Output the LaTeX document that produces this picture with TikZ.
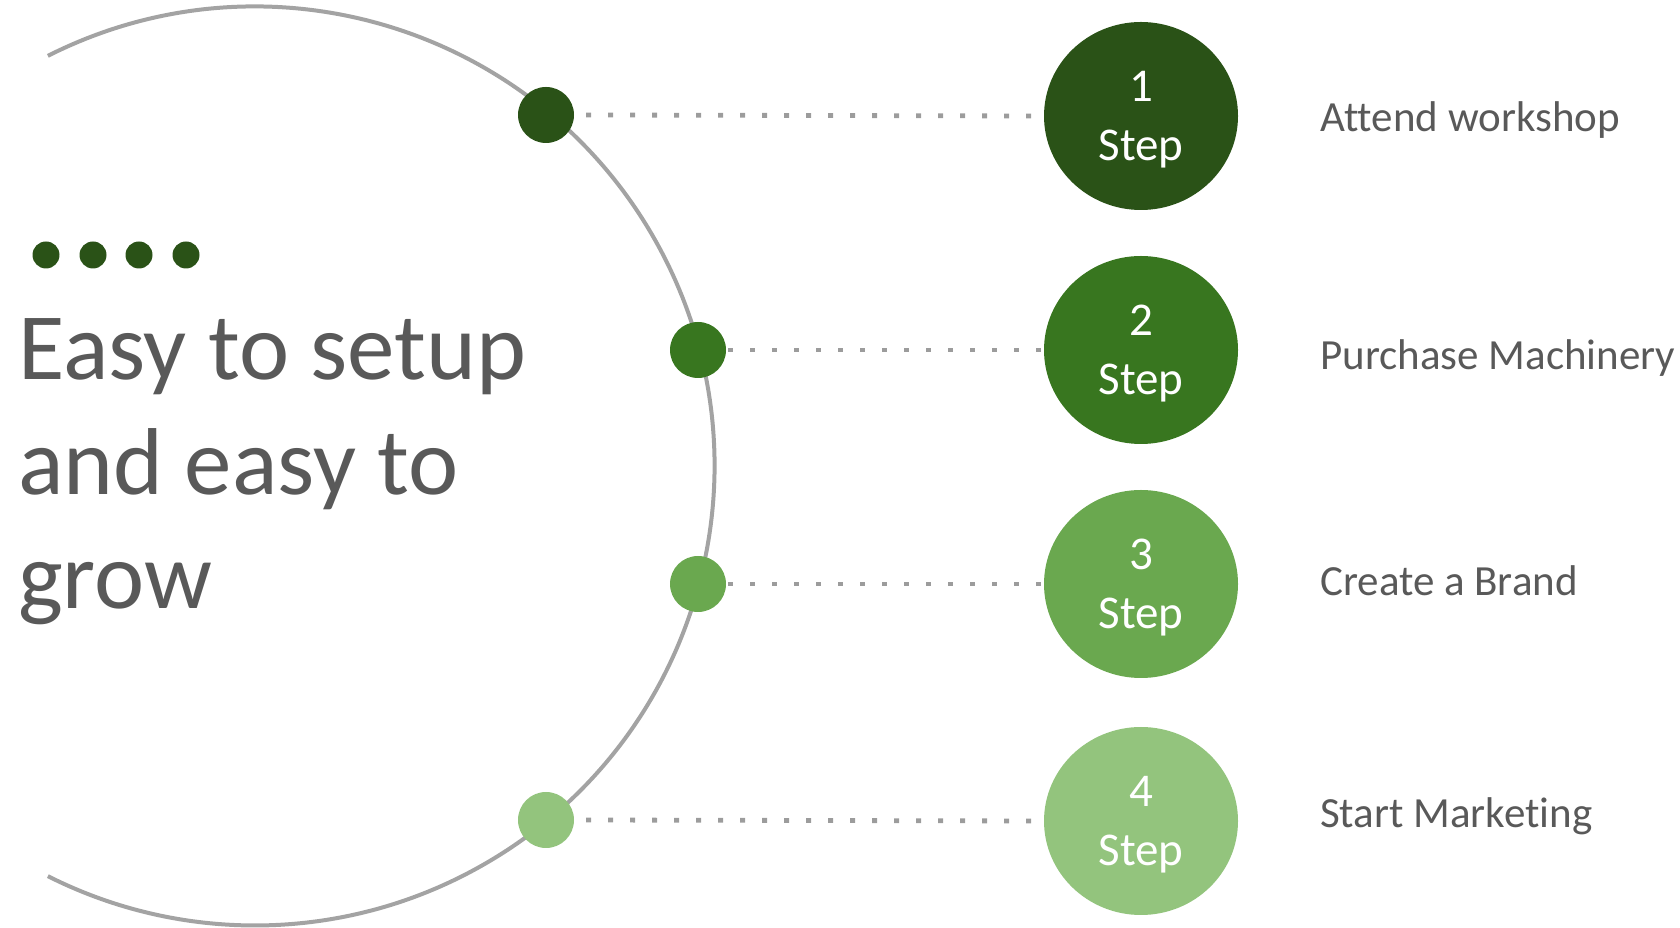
\documentclass[tikz,border=0pt]{standalone}
\usepackage{fontspec}
\usetikzlibrary{shapes.geometric}
\setmainfont{Carlito}[Ligatures=NoCommon]
\definecolor{gA}{HTML}{2A5217}
\definecolor{gB}{HTML}{38761F}
\definecolor{gC}{HTML}{6AA84F}
\definecolor{gD}{HTML}{93C47D}
\definecolor{txt}{HTML}{595959}
\definecolor{arcgray}{HTML}{A3A3A3}
\definecolor{dotgray}{HTML}{9C9C9C}
\tikzset{
  smalldot/.style={circle,minimum size=56pt,inner sep=0pt,draw=none},
  tinydot/.style={circle,minimum size=27pt,inner sep=0pt,fill=gA},
  bigstep/.style={ellipse,minimum width=194pt,minimum height=188pt,inner sep=0pt},
  stepnum/.style={text=white,font=\fontsize{47}{56}\selectfont,anchor=base},
  steplabel/.style={text=txt,font=\fontsize{43}{52}\selectfont,anchor=base west,inner sep=0pt},
  titleline/.style={text=txt,font=\fontsize{95}{114}\selectfont,anchor=base west,inner sep=0pt},
  connector/.style={draw=dotgray,line width=4.8pt,dash pattern=on 4.8pt off 17.2pt},
  bigarc/.style={draw=arcgray,line width=4pt}
}
\begin{document}
\begin{tikzpicture}[x=1pt,y=1pt]
\useasboundingbox (0,0) rectangle (1680,928);
% big arc
\coordinate (ac) at (255,462);
\draw[bigarc] (ac) ++(116.8:459.5) arc[start angle=116.8,end angle=-116.8,radius=459.5];
% four small dots
\node[tinydot] (t1) at (46,673) {};
\node[tinydot] (t2) at (93,673) {};
\node[tinydot] (t3) at (139,673) {};
\node[tinydot] (t4) at (186,673) {};
% title
\node[titleline] (h1) at (18,548) {Easy to setup};
\node[titleline] (h2) at (18,433) {and easy to};
\node[titleline] (h3) at (18,319) {grow};
% dots on arc
\node[smalldot,fill=gA] (d1) at (546,813) {};
\node[smalldot,fill=gB] (d2) at (698,578) {};
\node[smalldot,fill=gC] (d3) at (698,344) {};
\node[smalldot,fill=gD] (d4) at (546,108) {};
% big step circles
\node[bigstep,fill=gA] (s1) at (1141,812) {};
\node[bigstep,fill=gB] (s2) at (1141,578) {};
\node[bigstep,fill=gC] (s3) at (1141,344) {};
\node[bigstep,fill=gD] (s4) at (1141,107) {};
% connectors
\draw[connector] ([xshift=12pt]d1.east) -- (s1.west);
\draw[connector] ([xshift=2pt]d2.east) -- (s2.west);
\draw[connector] ([xshift=2pt]d3.east) -- (s3.west);
\draw[connector] ([xshift=12pt]d4.east) -- (s4.west);
% step texts
\foreach \i/\n in {1/1,2/2,3/3,4/4}{
  \node[stepnum] (n\i) at ([yshift=14pt]s\i.center) {\n};
  \node[stepnum] (w\i) at ([yshift=-45pt]s\i.center) {Step};
}
% labels
\node[steplabel] (l1) at (1320,796) {Attend workshop};
\node[steplabel] (l2) at (1320,558) {Purchase Machinery};
\node[steplabel] (l3) at (1320,332) {Create a Brand};
\node[steplabel] (l4) at (1320,100) {Start Marketing};
\end{tikzpicture}
\end{document}
